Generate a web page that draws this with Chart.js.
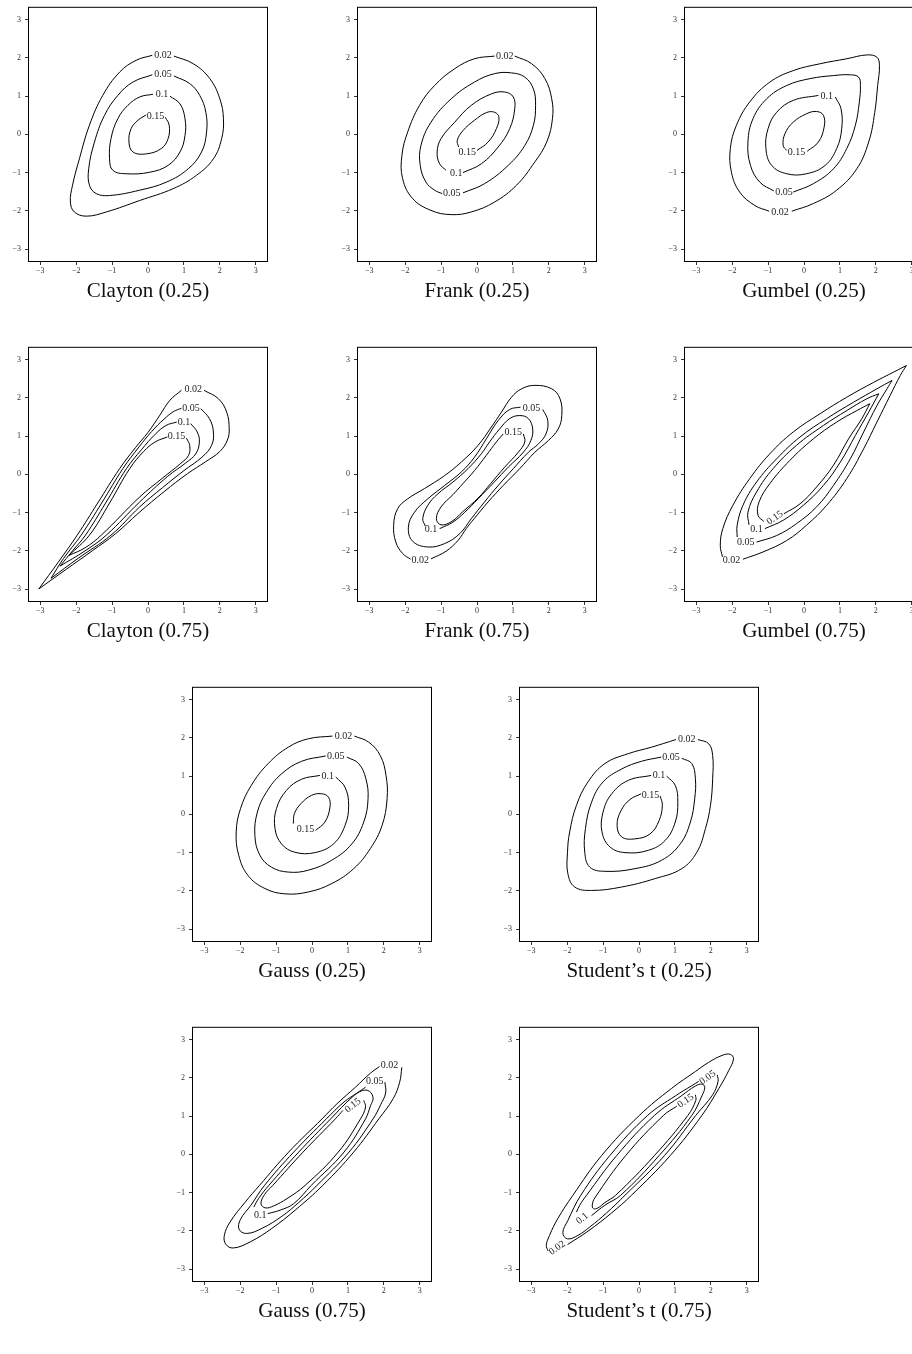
<!DOCTYPE html>
<html>
<head>
<meta charset="utf-8">
<script src="https://cdn.jsdelivr.net/npm/chart.js@4.4.1/dist/chart.umd.min.js"></script>
<style>
    body{margin:0;background:#fff;width:912px;height:1354px;overflow:hidden;position:relative}
    .panel{position:absolute}
    .title{position:absolute;width:240px;text-align:center;font-family:"Liberation Serif",serif;font-size:21px;line-height:24px;color:#111;white-space:nowrap}
</style>
</head>
<body>
<script>
// contour levels, same order in every panel
const levels=['0.02','0.05','0.1','0.15'];
const tickVals=[-3,-2,-1,0,1,2,3];
const titles=['Clayton (0.25)','Frank (0.25)','Gumbel (0.25)','Clayton (0.75)','Frank (0.75)','Gumbel (0.75)','Gauss (0.25)','Student\u2019s t (0.25)','Gauss (0.75)','Student\u2019s t (0.75)'];

// contour points [x,y], one list per level (0.02, 0.05, 0.1, 0.15); each list starts and ends at its label gap
const claytonLow=[
    [[0.72,2.05],[1.26,1.85],[1.72,1.46],[2.00,0.93],[2.10,0.41],[2.05,-0.11],[1.82,-0.64],[1.35,-1.07],[0.70,-1.42],[-0.23,-1.73],[-1.16,-2.03],[-1.72,-2.14],[-2.05,-2.03],[-2.16,-1.77],[-2.10,-1.33],[-1.91,-0.64],[-1.63,0.24],[-1.26,1.02],[-0.79,1.63],[-0.33,1.94],[0.12,2.07]],
    [[0.72,1.53],[1.16,1.33],[1.44,1.02],[1.61,0.58],[1.63,0.06],[1.49,-0.46],[1.12,-0.90],[0.51,-1.25],[-0.23,-1.46],[-1.07,-1.60],[-1.44,-1.55],[-1.63,-1.33],[-1.65,-0.90],[-1.49,-0.20],[-1.21,0.50],[-0.84,1.02],[-0.42,1.37],[0.12,1.56]],
    [[0.61,1.00],[0.89,0.80],[1.03,0.41],[1.03,-0.03],[0.89,-0.46],[0.56,-0.81],[0.05,-0.99],[-0.61,-1.03],[-0.98,-0.94],[-1.07,-0.64],[-1.03,-0.11],[-0.84,0.41],[-0.56,0.76],[-0.23,0.98],[0.14,1.05]],
    [[0.48,0.45],[0.59,0.24],[0.56,-0.11],[0.37,-0.37],[-0.05,-0.51],[-0.42,-0.46],[-0.53,-0.20],[-0.47,0.15],[-0.28,0.37],[-0.05,0.51]]
];
const frankLow=[
    [[1.05,2.05],[1.52,1.85],[1.89,1.46],[2.08,0.93],[2.10,0.41],[1.94,-0.20],[1.61,-0.72],[1.10,-1.33],[0.49,-1.77],[-0.16,-2.03],[-0.72,-2.10],[-1.28,-1.99],[-1.79,-1.68],[-2.07,-1.16],[-2.09,-0.55],[-1.93,0.06],[-1.60,0.76],[-1.18,1.28],[-0.62,1.72],[-0.07,1.98],[0.49,2.05]],
    [[-0.39,-1.53],[0.21,-1.29],[0.87,-0.81],[1.33,-0.29],[1.57,0.24],[1.63,0.76],[1.57,1.19],[1.33,1.50],[0.96,1.61],[0.49,1.59],[-0.07,1.37],[-0.72,0.93],[-1.28,0.32],[-1.56,-0.29],[-1.58,-0.81],[-1.42,-1.25],[-1.18,-1.46],[-0.97,-1.55]],
    [[-0.39,-1.00],[0.12,-0.77],[0.59,-0.33],[0.91,0.15],[1.05,0.67],[1.01,0.98],[0.77,1.11],[0.40,1.06],[-0.16,0.76],[-0.62,0.32],[-1.00,-0.11],[-1.11,-0.46],[-1.04,-0.77],[-0.86,-0.94]],
    [[0.00,-0.42],[0.31,-0.20],[0.54,0.15],[0.61,0.45],[0.49,0.58],[0.26,0.57],[-0.07,0.37],[-0.39,0.10],[-0.55,-0.16],[-0.51,-0.33]]
];
const gumbelLow=[
    [[-0.34,-2.01],[0.26,-1.81],[0.91,-1.46],[1.47,-0.90],[1.80,-0.20],[1.97,0.58],[2.05,1.28],[2.10,1.80],[2.03,2.02],[1.75,2.08],[1.19,1.98],[0.45,1.85],[-0.30,1.67],[-0.95,1.37],[-1.51,0.85],[-1.88,0.24],[-2.05,-0.37],[-2.02,-0.99],[-1.79,-1.51],[-1.37,-1.86],[-0.97,-2.01]],
    [[-0.30,-1.51],[0.26,-1.29],[0.82,-0.90],[1.19,-0.37],[1.43,0.24],[1.54,0.85],[1.57,1.28],[1.52,1.50],[1.29,1.56],[0.82,1.54],[0.17,1.46],[-0.48,1.28],[-1.04,0.93],[-1.42,0.41],[-1.56,-0.20],[-1.49,-0.81],[-1.23,-1.25],[-0.84,-1.48]],
    [[0.87,0.98],[1.03,0.67],[1.05,0.15],[0.91,-0.37],[0.59,-0.81],[0.07,-1.03],[-0.48,-1.03],[-0.90,-0.81],[-1.06,-0.37],[-1.00,0.15],[-0.76,0.58],[-0.30,0.89],[0.40,1.02]],
    [[0.09,-0.44],[0.40,-0.20],[0.56,0.19],[0.54,0.50],[0.35,0.60],[0.07,0.54],[-0.30,0.32],[-0.53,0.02],[-0.58,-0.29],[-0.48,-0.42]]
];
// the sharp tails repeat their tip point
const claytonHigh=[
    [[1.56,2.20],[1.96,1.98],[2.19,1.63],[2.26,1.19],[2.21,0.90],[2.00,0.60],[1.60,0.33],[1.10,0.02],[0.45,-0.45],[-0.25,-1.00],[-0.90,-1.55],[-1.55,-2.00],[-2.30,-2.50],[-3.04,-3.00],[-3.04,-3.00],[-2.50,-2.30],[-1.97,-1.59],[-1.40,-0.75],[-0.79,0.15],[-0.35,0.70],[0.00,1.10],[0.33,1.55],[0.61,1.94],[0.93,2.20]],
    [[1.47,1.72],[1.71,1.46],[1.82,1.11],[1.77,0.76],[1.50,0.45],[1.00,0.10],[0.40,-0.35],[-0.23,-0.85],[-1.03,-1.59],[-1.95,-2.20],[-2.70,-2.72],[-2.70,-2.72],[-2.35,-2.20],[-1.86,-1.59],[-1.29,-0.75],[-0.70,0.15],[-0.25,0.72],[0.10,1.12],[0.45,1.45],[0.72,1.65],[0.93,1.73]],
    [[1.19,1.33],[1.37,1.11],[1.43,0.85],[1.33,0.54],[1.05,0.30],[0.55,-0.05],[-0.23,-0.72],[-1.16,-1.59],[-1.75,-2.00],[-2.45,-2.40],[-2.45,-2.40],[-2.10,-2.00],[-1.74,-1.59],[-1.18,-0.75],[-0.60,0.15],[-0.18,0.65],[0.20,1.05],[0.50,1.28],[0.80,1.37]],
    [[1.07,0.95],[1.16,0.76],[1.13,0.50],[0.90,0.28],[0.40,-0.10],[-0.23,-0.59],[-1.30,-1.59],[-1.75,-1.92],[-2.20,-2.12],[-2.20,-2.12],[-1.63,-1.59],[-1.07,-0.75],[-0.51,0.15],[-0.12,0.60],[0.20,0.85],[0.54,0.98]]
];
const frankHigh=[
    [[-1.28,-2.21],[-0.86,-2.01],[-0.53,-1.73],[-0.30,-1.42],[-0.08,-1.16],[0.31,-0.72],[0.73,-0.29],[1.19,0.15],[1.61,0.58],[1.99,0.89],[2.26,1.19],[2.36,1.54],[2.31,1.98],[2.08,2.24],[1.61,2.33],[1.24,2.24],[0.96,2.02],[0.68,1.63],[0.40,1.24],[0.03,0.76],[-0.44,0.32],[-0.90,-0.03],[-1.46,-0.37],[-1.93,-0.64],[-2.21,-0.90],[-2.32,-1.33],[-2.26,-1.77],[-2.07,-2.07],[-1.85,-2.22]],
    [[1.83,1.70],[1.97,1.41],[1.92,1.06],[1.71,0.80],[1.43,0.58],[1.01,0.15],[0.59,-0.29],[0.21,-0.72],[-0.16,-1.16],[-0.48,-1.55],[-0.90,-1.81],[-1.37,-1.90],[-1.79,-1.75],[-1.91,-1.38],[-1.74,-0.99],[-1.37,-0.64],[-0.90,-0.29],[-0.44,0.06],[-0.07,0.45],[0.26,0.93],[0.59,1.41],[0.91,1.70],[1.21,1.76]],
    [[-1.04,-1.42],[-0.67,-1.25],[-0.34,-0.99],[0.03,-0.64],[0.48,-0.20],[0.87,0.19],[1.29,0.58],[1.50,0.89],[1.55,1.19],[1.43,1.46],[1.19,1.54],[0.91,1.46],[0.63,1.19],[0.35,0.85],[0.12,0.54],[-0.25,0.15],[-0.67,-0.20],[-1.09,-0.51],[-1.37,-0.81],[-1.51,-1.16],[-1.44,-1.35]],
    [[1.29,1.06],[1.33,0.85],[1.15,0.58],[0.77,0.19],[0.38,-0.24],[0.03,-0.62],[-0.39,-0.97],[-0.70,-1.23],[-1.00,-1.32],[-1.13,-1.16],[-1.00,-0.85],[-0.67,-0.53],[-0.39,-0.24],[-0.07,0.10],[0.26,0.50],[0.54,0.85],[0.73,1.06]]
];
const gumbelHigh=[
    [[-1.70,-2.22],[-1.14,-2.03],[-0.48,-1.73],[0.07,-1.33],[0.63,-0.81],[1.19,-0.11],[1.66,0.67],[2.03,1.37],[2.40,2.07],[2.68,2.59],[2.85,2.85],[2.85,2.85],[2.50,2.68],[1.94,2.41],[1.19,2.02],[0.45,1.59],[-0.30,1.11],[-0.95,0.54],[-1.51,-0.11],[-1.98,-0.81],[-2.26,-1.42],[-2.33,-1.86],[-2.27,-2.16]],
    [[-1.32,-1.77],[-0.76,-1.60],[-0.21,-1.29],[0.35,-0.85],[0.82,-0.29],[1.29,0.41],[1.66,1.11],[2.03,1.80],[2.31,2.24],[2.45,2.46],[2.45,2.46],[2.03,2.24],[1.38,1.89],[0.63,1.46],[-0.11,0.98],[-0.76,0.41],[-1.32,-0.20],[-1.70,-0.81],[-1.86,-1.33],[-1.86,-1.64]],
    [[-1.09,-1.42],[-0.58,-1.20],[-0.02,-0.81],[0.54,-0.29],[1.01,0.32],[1.43,1.02],[1.80,1.63],[2.08,2.11],[2.08,2.11],[1.75,1.98],[1.19,1.67],[0.54,1.28],[-0.21,0.76],[-0.86,0.15],[-1.32,-0.46],[-1.56,-0.99],[-1.53,-1.32]],
    [[-0.56,-1.03],[-0.11,-0.77],[0.35,-0.33],[0.82,0.24],[1.24,0.93],[1.61,1.46],[1.83,1.85],[1.83,1.85],[1.47,1.67],[0.91,1.37],[0.26,0.93],[-0.39,0.37],[-0.95,-0.24],[-1.25,-0.72],[-1.28,-1.07],[-1.12,-1.23]]
];
const gaussLow=[
    [[1.18,2.05],[1.58,1.89],[1.90,1.54],[2.06,1.02],[2.09,0.41],[1.95,-0.29],[1.62,-0.90],[1.16,-1.42],[0.55,-1.81],[-0.10,-2.03],[-0.75,-2.08],[-1.31,-1.94],[-1.78,-1.60],[-2.04,-1.07],[-2.11,-0.46],[-1.99,0.15],[-1.69,0.76],[-1.22,1.33],[-0.66,1.76],[-0.10,1.98],[0.57,2.05]],
    [[0.97,1.50],[1.30,1.33],[1.50,0.93],[1.56,0.41],[1.44,-0.20],[1.11,-0.77],[0.55,-1.20],[-0.10,-1.46],[-0.66,-1.51],[-1.13,-1.38],[-1.45,-1.07],[-1.59,-0.55],[-1.52,0.06],[-1.27,0.58],[-0.85,1.06],[-0.29,1.39],[0.38,1.53]],
    [[0.66,0.98],[0.92,0.71],[1.02,0.24],[0.92,-0.29],[0.60,-0.77],[0.08,-1.00],[-0.48,-0.99],[-0.85,-0.77],[-1.03,-0.37],[-0.99,0.15],[-0.71,0.63],[-0.29,0.92],[0.22,1.02]],
    [[0.10,-0.42],[0.36,-0.20],[0.50,0.19],[0.46,0.45],[0.27,0.54],[-0.01,0.50],[-0.31,0.28],[-0.49,0.02],[-0.52,-0.24]]
];
const studentLow=[
    [[1.64,1.96],[1.94,1.85],[2.05,1.54],[2.05,0.93],[1.99,0.24],[1.85,-0.37],[1.61,-0.99],[1.19,-1.42],[0.45,-1.68],[-0.48,-1.90],[-1.32,-1.99],[-1.79,-1.90],[-1.98,-1.55],[-1.99,-0.99],[-1.93,-0.46],[-1.74,0.24],[-1.42,0.85],[-0.95,1.33],[-0.30,1.59],[0.35,1.76],[1.03,1.96]],
    [[1.19,1.47],[1.47,1.33],[1.57,0.93],[1.55,0.41],[1.43,-0.20],[1.15,-0.77],[0.63,-1.20],[-0.11,-1.42],[-0.95,-1.49],[-1.37,-1.38],[-1.51,-0.99],[-1.49,-0.37],[-1.32,0.32],[-1.00,0.85],[-0.48,1.19],[0.07,1.39],[0.62,1.50]],
    [[0.77,1.00],[1.01,0.76],[1.08,0.32],[1.01,-0.20],[0.73,-0.68],[0.26,-0.94],[-0.39,-1.00],[-0.81,-0.85],[-1.03,-0.46],[-1.00,0.06],[-0.76,0.54],[-0.30,0.89],[0.34,1.02]],
    [[0.59,0.48],[0.65,0.24],[0.56,-0.16],[0.31,-0.51],[-0.11,-0.64],[-0.48,-0.59],[-0.61,-0.29],[-0.50,0.10],[-0.25,0.39],[0.06,0.54]]
];
const gaussHigh=[
    [[2.50,2.28],[2.44,1.89],[2.26,1.46],[1.86,0.93],[1.16,0.06],[0.30,-0.81],[-0.47,-1.46],[-1.12,-1.94],[-1.72,-2.29],[-2.19,-2.45],[-2.40,-2.35],[-2.44,-2.12],[-2.28,-1.77],[-1.86,-1.25],[-1.46,-0.81],[-0.65,0.06],[0.28,0.93],[0.70,1.33],[1.21,1.76],[1.63,2.13],[1.88,2.30]],
    [[2.03,1.89],[2.05,1.61],[1.91,1.30],[1.70,0.93],[1.03,0.06],[0.14,-0.81],[-0.37,-1.26],[-0.84,-1.62],[-1.38,-1.93],[-1.82,-2.07],[-2.03,-1.96],[-1.99,-1.70],[-1.70,-1.33],[-1.32,-0.81],[-0.51,0.06],[0.40,0.93],[0.89,1.37],[1.26,1.61],[1.49,1.76]],
    [[-1.23,-1.55],[-0.89,-1.46],[-0.51,-1.29],[-0.02,-0.81],[0.89,0.06],[1.49,0.93],[1.63,1.28],[1.70,1.47],[1.60,1.65],[1.40,1.67],[1.12,1.50],[0.52,0.93],[-0.37,0.06],[-1.20,-0.81],[-1.49,-1.16],[-1.62,-1.38]],
    [[1.44,1.41],[1.49,1.24],[1.35,0.93],[0.73,0.06],[-0.19,-0.81],[-0.70,-1.16],[-1.07,-1.35],[-1.30,-1.40],[-1.42,-1.29],[-1.32,-1.05],[-1.09,-0.81],[-0.25,0.06],[0.65,0.93],[0.86,1.15]]
];
const studentHigh=[
    [[-1.99,-2.36],[-1.42,-2.01],[-0.76,-1.53],[-0.21,-1.07],[0.87,-0.03],[1.75,1.02],[2.22,1.72],[2.50,2.20],[2.63,2.50],[2.54,2.62],[2.31,2.59],[1.94,2.41],[1.57,2.17],[0.91,1.73],[0.01,1.02],[-1.04,-0.03],[-1.84,-1.07],[-2.26,-1.68],[-2.49,-2.12],[-2.58,-2.38],[-2.53,-2.53]],
    [[2.18,2.08],[2.20,1.91],[2.05,1.56],[1.58,1.02],[0.71,-0.03],[-0.39,-1.07],[-0.90,-1.53],[-1.37,-1.90],[-1.70,-2.12],[-1.99,-2.21],[-2.12,-2.05],[-1.98,-1.73],[-1.62,-1.07],[-0.81,-0.03],[0.24,1.02],[1.01,1.53],[1.47,1.80],[1.66,1.91]],
    [[-1.32,-1.60],[-0.95,-1.33],[-0.51,-1.07],[0.56,-0.03],[1.47,1.02],[1.75,1.53],[1.83,1.76],[1.75,1.84],[1.57,1.79],[1.19,1.54],[0.43,1.02],[-0.62,-0.03],[-1.46,-1.07],[-1.65,-1.33],[-1.74,-1.51]],
    [[1.57,1.56],[1.58,1.41],[1.36,1.02],[0.43,-0.03],[-0.65,-1.07],[-0.95,-1.26],[-1.14,-1.40],[-1.27,-1.42],[-1.30,-1.32],[-1.23,-1.14],[-0.37,-0.03],[0.68,1.02],[1.05,1.26]]
];
const panels=[claytonLow,frankLow,gumbelLow,claytonHigh,frankHigh,gumbelHigh,gaussLow,studentLow,gaussHigh,studentHigh];

// inline label anchors [x, y, rotation in degrees], in level order
const labelSpots=[
    [[0.42,2.07,0],[0.42,1.56,0],[0.39,1.05,0],[0.21,0.48,0]],
    [[0.77,2.05,0],[-0.70,-1.55,0],[-0.58,-1.03,0],[-0.27,-0.46,0]],
    [[-0.67,-2.03,0],[-0.56,-1.53,0],[0.63,1.00,0],[-0.21,-0.46,0]],
    [[1.26,2.22,0],[1.20,1.73,0],[1.00,1.37,0],[0.79,1.00,0]],
    [[-1.58,-2.25,0],[1.52,1.74,0],[-1.28,-1.44,0],[1.01,1.11,0]],
    [[-2.02,-2.25,0],[-1.62,-1.79,0],[-1.32,-1.45,0],[-0.81,-1.14,-35]],
    [[0.88,2.05,0],[0.66,1.53,0],[0.44,1.00,0],[-0.18,-0.39,0]],
    [[1.33,1.96,0],[0.89,1.48,0],[0.56,1.02,0],[0.32,0.51,0]],
    [[2.16,2.33,0],[1.75,1.92,0],[-1.44,-1.60,0],[1.14,1.28,-38]],
    [[-2.28,-2.45,-35],[1.91,2.01,-35],[-1.58,-1.68,-40],[1.30,1.40,-35]]
];

// box top-left corners on the page
const boxes=[[28,7],[357,7],[684,7],[28,347],[357,347],[684,347],[192,687],[519,687],[192,1027],[519,1027]];
const BOX_W=240, BOX_H=255, YAXIS_W=28, XAXIS_H=20, PAD=4;

const fmt=v=>v<0?'\u2212'+Math.abs(v):''+v;

function makeAxis(pos){
    return {
        type:'linear',position:pos,min:-3.34,max:3.34,
        afterBuildTicks:s=>{s.ticks=tickVals.map(v=>({value:v}));},
        afterFit:s=>{if(pos==='left')s.width=YAXIS_W;else s.height=XAXIS_H;},
        grid:{display:true,drawOnChartArea:false,drawTicks:true,tickLength:3,color:'#000',lineWidth:0.8},
        border:{display:false},
        ticks:{padding:pos==='left'?4:1,color:'#333',font:{family:'Liberation Serif',size:8},maxRotation:0,callback:fmt}
    };
}

panels.forEach((contours,i)=>{
    const [bx,by]=boxes[i];
    const canvas=document.createElement('canvas');
    canvas.className='panel';
    canvas.width=YAXIS_W+BOX_W+PAD;
    canvas.height=PAD+BOX_H+XAXIS_H;
    document.body.appendChild(canvas);

    const title=document.createElement('div');
    title.className='title';
    title.textContent=titles[i];
    title.style.left=bx+'px';
    title.style.top=(by+BOX_H+16)+'px';
    document.body.appendChild(title);

    const spots=labelSpots[i];
    const frame={
        id:'frame'+i,
        afterDatasetsDraw(chart){
            const {ctx,chartArea:a,scales:{x,y}}=chart;
            ctx.save();
            ctx.strokeStyle='#000';
            ctx.lineWidth=1;
            ctx.strokeRect(a.left+0.5,a.top+0.5,a.width-1,a.height-1);
            ctx.font='10px "Liberation Serif"';
            ctx.fillStyle='#222';
            ctx.textAlign='center';
            ctx.textBaseline='middle';
            spots.forEach((s,k)=>{
                ctx.save();
                ctx.translate(x.getPixelForValue(s[0]),y.getPixelForValue(s[1]));
                ctx.rotate(s[2]*Math.PI/180);
                ctx.fillText(levels[k],0,0);
                ctx.restore();
            });
            ctx.restore();
        }
    };

    const chart=new Chart(canvas,{
        type:'scatter',
        data:{
            datasets:contours.map((pts,k)=>({
                label:levels[k],
                data:pts.map(p=>({x:p[0],y:p[1]})),
                showLine:true,
                borderColor:'#000',
                borderWidth:1,
                pointRadius:0,
                tension:0.4,
                fill:false
            }))
        },
        options:{
            responsive:false,
            maintainAspectRatio:false,
            animation:false,
            events:[],
            layout:{padding:{top:PAD,right:PAD,left:0,bottom:0}},
            plugins:{legend:{display:false},tooltip:{enabled:false}},
            scales:{x:makeAxis('bottom'),y:makeAxis('left')}
        },
        plugins:[frame]
    });

    // grow the canvas so the plot box is exactly BOX_W x BOX_H, then pin the box to its spot
    const a=chart.chartArea;
    chart.resize(canvas.width+BOX_W-Math.round(a.right-a.left),canvas.height+BOX_H-Math.round(a.bottom-a.top));
    const b=chart.chartArea;
    canvas.style.left=(bx-Math.round(b.left))+'px';
    canvas.style.top=(by-Math.round(b.top))+'px';
});
</script>
</body>
</html>
